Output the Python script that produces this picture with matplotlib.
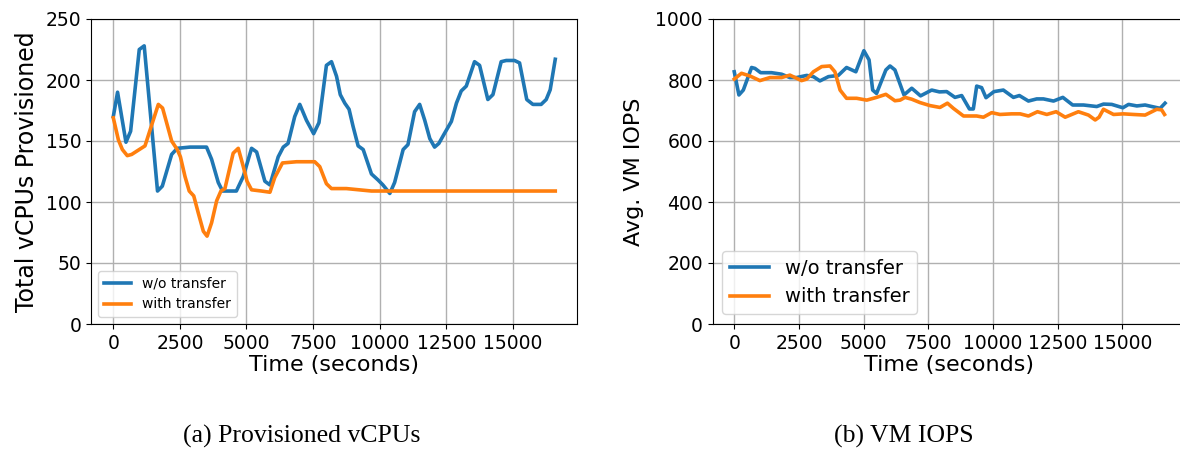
import matplotlib
matplotlib.use('Agg')
import matplotlib.pyplot as plt

# (a) provisioned vCPUs
cpu_t_wo = [0, 160, 475, 650, 975, 1160, 1660, 1840, 2190, 2400, 2880, 3500, 3690,
            3940, 4100, 4620, 4880, 5190, 5380, 5690, 5880, 6190, 6380, 6560, 6810,
            7000, 7250, 7520, 7720, 8000, 8190, 8380, 8520, 8690, 8850, 9000, 9190,
            9380, 9690, 9940, 10120, 10380, 10560, 10750, 10880, 11060, 11310, 11500,
            11690, 11880, 12060, 12220, 12400, 12690, 12880, 13060, 13250, 13560,
            13750, 14060, 14250, 14560, 14750, 15060, 15250, 15520, 15750, 16060,
            16250, 16400, 16590]
cpu_wo = [170, 190, 149, 158, 225, 228, 109, 113, 139, 144, 145, 145, 135,
          116, 109, 109, 121, 144, 141, 117, 114, 137, 145, 148, 170,
          180, 167, 156, 165, 212, 215, 203, 188, 181, 176, 162, 146,
          143, 123, 118, 114, 107, 116, 132, 143, 147, 174, 180,
          167, 152, 145, 148, 155, 166, 181, 191, 195, 215,
          212, 184, 188, 215, 216, 216, 214, 184, 180, 180,
          184, 192, 217]

cpu_t_with = [0, 190, 340, 525, 690, 975, 1190, 1380, 1690, 1850, 2190, 2400, 2520,
              2690, 2850, 3020, 3190, 3380, 3520, 3690, 3880, 4040, 4190, 4350, 4500,
              4690, 4880, 5020, 5190, 5560, 5880, 6060, 6350, 6880, 7560, 7750, 8000,
              8190, 8750, 9690, 16590]
cpu_with = [169, 151, 143, 138, 139, 143, 146, 159, 180, 177, 150, 143, 137,
            121, 109, 105, 91, 76, 72, 83, 101, 109, 111, 126, 140,
            144, 129, 117, 110, 109, 108, 120, 132, 133, 133, 129, 115,
            111, 111, 109, 109]

# (b) VM IOPS
io_t_wo = [0, 180, 350, 670, 800, 1020, 1440, 1830, 2150, 2410, 2800, 3060, 3310,
           3640, 4020, 4340, 4700, 5010, 5210, 5350, 5500, 5860, 6020, 6210, 6560,
           6860, 7200, 7630, 7930, 8210, 8530, 8790, 9090, 9240, 9370, 9560, 9730,
           10040, 10400, 10790, 11020, 11370, 11690, 11950, 12340, 12700, 13080,
           13500, 14010, 14270, 14590, 15020, 15240, 15560, 15880, 16140, 16460, 16650]
io_wo = [827, 751, 767, 841, 838, 824, 824, 819, 808, 808, 815, 811, 797,
         811, 815, 841, 827, 896, 866, 767, 756, 833, 846, 833, 751,
         773, 748, 767, 761, 762, 743, 749, 705, 705, 780, 775, 742,
         762, 767, 743, 749, 731, 738, 738, 731, 743, 718,
         718, 713, 721, 720, 709, 720, 715, 718, 713, 707, 724]

io_t_with = [0, 280, 610, 990, 1380, 1830, 2150, 2600, 2800, 3060, 3380, 3700, 3890,
             4090, 4340, 4730, 5120, 5500, 5860, 6210, 6410, 6600, 6860, 7180, 7570,
             7950, 8240, 8470, 8860, 9370, 9630, 9950, 10270, 10720, 11050, 11370,
             11720, 12080, 12440, 12790, 13300, 13690, 13950, 14100, 14270, 14660,
             15040, 15430, 15880, 16330, 16520, 16630]
io_with = [803, 822, 813, 798, 808, 808, 816, 798, 803, 827, 844, 846, 827,
           767, 740, 740, 734, 743, 753, 732, 734, 743, 737, 726, 716,
           710, 724, 707, 682, 682, 678, 693, 687, 689, 689, 682,
           696, 687, 696, 678, 696, 685, 669, 678, 704, 687,
           689, 687, 685, 704, 702, 687]

labels = ['w/o transfer', 'with transfer']
c_blue = '#1f77b4'
c_orange = '#ff7f0e'

fig = plt.figure(figsize=(11.8, 4.5), dpi=100)
ax1 = fig.add_axes([91 / 1180, 126 / 450, 486 / 1180, 305 / 450])
ax2 = fig.add_axes([712.6 / 1180, 126 / 450, 472 / 1180, 305 / 450])

ax1.plot(cpu_t_wo, cpu_wo, color=c_blue, lw=2.6, label=labels[0])
ax1.plot(cpu_t_with, cpu_with, color=c_orange, lw=2.6, label=labels[1])
ax1.set_ylim(0, 250)
ax1.set_xlim(-837, 17406)
ax1.set_xticks([0, 2500, 5000, 7500, 10000, 12500, 15000])
ax1.set_ylabel('Total vCPUs Provisioned', fontsize=17, labelpad=5)
ax1.set_xlabel('Time (seconds)', fontsize=16, labelpad=2)
ax1.legend(loc='lower left', fontsize=10)

ax2.plot(io_t_wo, io_wo, color=c_blue, lw=2.6, label=labels[0])
ax2.plot(io_t_with, io_with, color=c_orange, lw=2.6, label=labels[1])
ax2.set_ylim(0, 1000)
ax2.set_xlim(-837, 17406)
ax2.set_xticks([0, 2500, 5000, 7500, 10000, 12500, 15000])
ax2.set_ylabel('Avg. VM IOPS', fontsize=16, labelpad=8)
ax2.set_xlabel('Time (seconds)', fontsize=16, labelpad=2)
ax2.legend(loc='lower left', fontsize=14)

for ax in (ax1, ax2):
    ax.grid(True, color='#b0b0b0', lw=1)
    ax.set_axisbelow(True)
    ax.tick_params(labelsize=13.5)

fig.text(302 / 1180, 1 - 436 / 450, '(a) Provisioned vCPUs', ha='center', va='center',
         family='Liberation Serif', fontsize=18.5)
fig.text(904 / 1180, 1 - 436 / 450, '(b) VM IOPS', ha='center', va='center',
         family='Liberation Serif', fontsize=18.5)

fig.savefig('out.png', dpi=100)
